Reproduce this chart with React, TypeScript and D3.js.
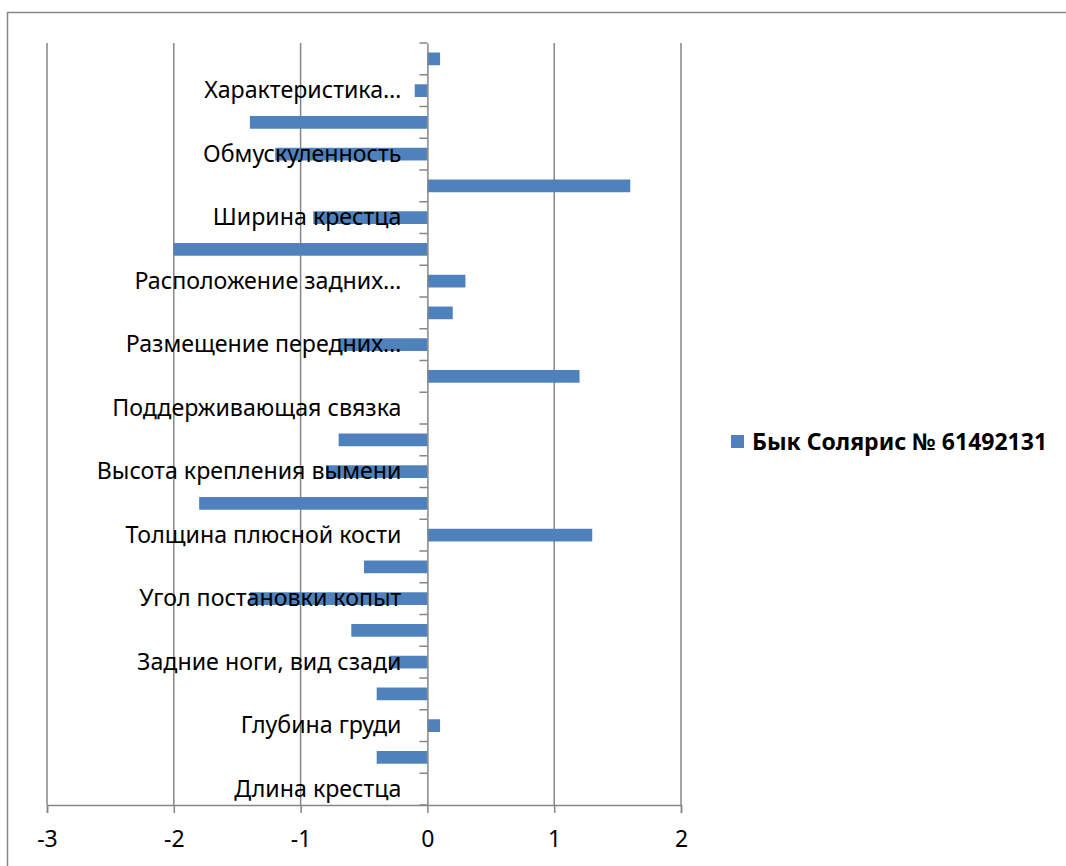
import React, { useEffect, useRef } from 'react';
import * as d3 from 'd3';

// categories, top to bottom (Excel hides every other label)
const categories: string[] = [
  'Молочный тип',
  'Характеристика…',
  'Крепость телосложения',
  'Обмускуленность',
  'Рост',
  'Ширина крестца',
  'Наклон крестца',
  'Расположение задних…',
  'Длина сосков',
  'Размещение передних…',
  'Глубина вымени',
  'Поддерживающая связка',
  'Ширина задней части вымени',
  'Высота крепления вымени',
  'Прикрепление передних долей',
  'Толщина плюсной кости',
  'Скакательный сустав',
  'Угол постановки копыт',
  'Задние ноги, вид сбоку',
  'Задние ноги, вид сзади',
  'Ширина груди',
  'Глубина груди',
  'Глубина туловища',
  'Длина крестца',
];

const values: number[] = [
  0.1, -0.1, -1.4, -1.2, 1.6, -0.9, -2.0, 0.3, 0.2, -0.7, 1.2, 0,
  -0.7, -0.8, -1.8, 1.3, -0.5, -1.4, -0.6, -0.3, -0.4, 0.1, -0.4, 0,
];

const xTicks: number[] = [-3, -2, -1, 0, 1, 2];
const seriesName = 'Бык Солярис № 61492131';

const W = 1066;
const H = 866;
const FONT = '"Noto Sans", "Open Sans", sans-serif';

export default function App() {
  const ref = useRef<SVGSVGElement>(null);

  useEffect(() => {
    if (!ref.current) return;
    const svg = d3.select(ref.current);
    svg.selectAll('*').remove();

    const plot = { left: 47, right: 681, top: 43, bottom: 805 };

    const x = d3.scaleLinear().domain([-3, 2]).range([plot.left, plot.right]);
    const y = d3
      .scaleBand<string>()
      .domain(categories)
      .range([plot.top, plot.bottom])
      .paddingInner(0.6)
      .paddingOuter(0.3);
    const yAxisScale = d3
      .scaleBand<string>()
      .domain(categories)
      .range([plot.top, plot.bottom]);

    // chart border
    svg.append('rect')
      .attr('x', 7.5).attr('y', 12.5)
      .attr('width', W + 10).attr('height', H + 10)
      .attr('fill', 'none').attr('stroke', '#868686').attr('stroke-width', 1.5);

    // vertical gridlines
    svg.append('g')
      .selectAll('line')
      .data(xTicks.filter(d => d !== 0))
      .enter().append('line')
      .attr('x1', d => x(d)).attr('x2', d => x(d))
      .attr('y1', plot.top).attr('y2', plot.bottom)
      .attr('stroke', '#868686').attr('stroke-width', 1.5);

    // bars
    svg.append('g')
      .selectAll('rect')
      .data(values)
      .enter().append('rect')
      .attr('x', d => x(Math.min(0, d)))
      .attr('width', d => Math.abs(x(d) - x(0)))
      .attr('y', (d, i) => y(categories[i]) || 0)
      .attr('height', y.bandwidth())
      .attr('fill', '#4F81BD');

    // bottom value axis
    const xAxis = svg.append('g')
      .attr('transform', `translate(0,${plot.bottom})`)
      .call(d3.axisBottom(x).tickValues(xTicks).tickSize(8).tickPadding(18).tickFormat(d => String(d)));
    xAxis.select('.domain').attr('stroke', '#868686').attr('stroke-width', 1.5);
    xAxis.selectAll('.tick line').attr('stroke', '#868686').attr('stroke-width', 1.5);
    xAxis.selectAll('.tick text')
      .attr('fill', '#000')
      .style('font-family', FONT)
      .style('font-size', '23px');

    // category axis at zero
    const yAxis = svg.append('g')
      .attr('transform', `translate(${x(0)},0)`)
      .call(
        d3.axisLeft(yAxisScale)
          .tickSize(0)
          .tickPadding(26)
          .tickFormat((d, i) => ((categories.length - 1 - i) % 2 === 0 ? d : ''))
      );
    yAxis.select('.domain').attr('stroke', '#868686').attr('stroke-width', 1.5);
    yAxis.selectAll('.tick text')
      .attr('fill', '#000')
      .style('font-family', FONT)
      .style('font-size', '23.2px');

    // category tick marks at band boundaries
    svg.append('g')
      .selectAll('line')
      .data(d3.range(categories.length + 1))
      .enter().append('line')
      .attr('x1', x(0) - 8).attr('x2', x(0))
      .attr('y1', i => plot.top + i * yAxisScale.step())
      .attr('y2', i => plot.top + i * yAxisScale.step())
      .attr('stroke', '#868686').attr('stroke-width', 1.5);

    // legend
    const legend = svg.append('g').attr('transform', 'translate(731,435)');
    legend.append('rect').attr('width', 13).attr('height', 13).attr('fill', '#4F81BD');
    legend.append('text')
      .attr('x', 21).attr('y', 7).attr('dy', '0.35em')
      .style('font-family', FONT)
      .style('font-size', '23px')
      .style('font-weight', 'bold')
      .text(seriesName);
  }, []);

  return (
    <div style={{ position: 'absolute', left: 0, top: 0, width: W, height: H, background: '#fff' }}>
      <svg ref={ref} width={W} height={H} style={{ display: 'block' }} />
    </div>
  );
}
